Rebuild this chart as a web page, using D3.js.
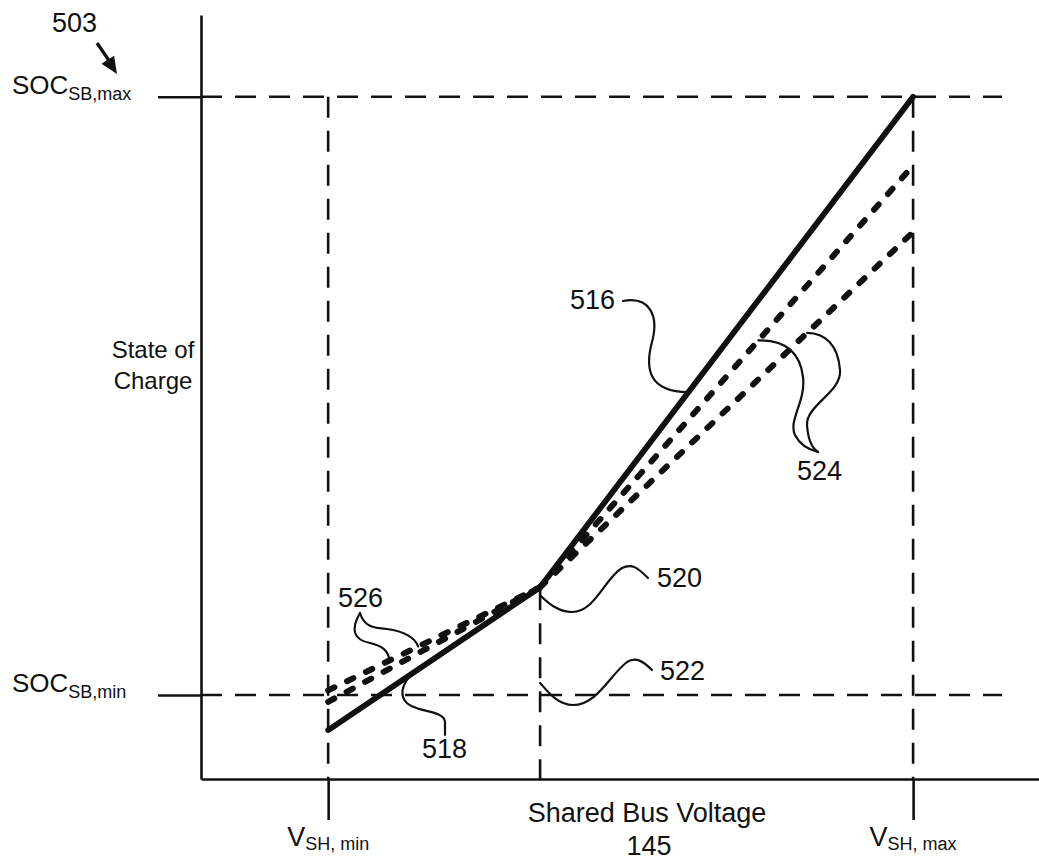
<!DOCTYPE html>
<html>
<head>
<meta charset="utf-8">
<script src="https://cdn.jsdelivr.net/npm/d3@7"></script>
<style>
  html, body { margin: 0; padding: 0; background: #fff; }
  svg { display: block; }
  text { font-family: "Liberation Sans", Arial, Helvetica, sans-serif; fill: #111; }
</style>
</head>
<body>
<svg id="chart" width="1039" height="861"></svg>
<script>
// ---------------- data ----------------
const voltage = [1, 2, 3.76];              // V_SH,min, break point (520), V_SH,max
const socLimits = [11.0, 89.3];            // SOC_SB,min, SOC_SB,max
const line516 = [6.4, 25.1, 89.3];         // solid curve over voltage[0..2]
const line526a = [11.6, 25.1];             // dashed, lower segment (voltage[0..1])
const line526b = [10.1, 25.1];
const line524a = [25.1, 80.3];             // dashed, upper segment (voltage[1..2])
const line524b = [25.1, 71.6];
const yTickLabels = [["SOC", "SB,min"], ["SOC", "SB,max"]];
const xTickLabels = [["V", "SH, min"], ["V", "SH, max"]];
const yTitle = ["State of", "Charge"];
const xTitle = ["Shared Bus Voltage", "145"];
const refLabels = ["503", "516", "518", "520", "522", "524", "526"];

// ---------------- scales ----------------
const svg = d3.select("#chart");
const x = d3.scaleLinear().domain([0.4, 4.354]).range([201, 1039]);
const y = d3.scaleLinear().domain([0, 100]).range([779, 15]);

const ink = "#111";

// helper: interpolated point on a polyline
function pointOn(xs, ys, v) {
  for (let i = 0; i < xs.length - 1; i++) {
    if (v >= xs[i] && v <= xs[i + 1]) {
      const t = (v - xs[i]) / (xs[i + 1] - xs[i]);
      return [x(v), y(ys[i] + t * (ys[i + 1] - ys[i]))];
    }
  }
  return [x(v), y(ys[ys.length - 1])];
}

// ---------------- reference dashed lines ----------------
const gridDash = "21,13";
socLimits.forEach(s => {
  svg.append("line")
    .attr("x1", x.range()[0]).attr("x2", 1002)
    .attr("y1", y(s)).attr("y2", y(s))
    .attr("stroke", ink).attr("stroke-width", 2.6).attr("stroke-dasharray", gridDash);
});
[voltage[0], voltage[2]].forEach(v => {
  svg.append("line")
    .attr("x1", x(v)).attr("x2", x(v))
    .attr("y1", y(socLimits[1])).attr("y2", y(0))
    .attr("stroke", ink).attr("stroke-width", 2.6).attr("stroke-dasharray", gridDash);
});
svg.append("line")
  .attr("x1", x(voltage[1])).attr("x2", x(voltage[1]))
  .attr("y1", y(line516[1]) + 2).attr("y2", y(0))
  .attr("stroke", ink).attr("stroke-width", 2.6).attr("stroke-dasharray", gridDash);

// ---------------- axes ----------------
const xAxis = d3.axisBottom(x).tickValues([voltage[0], voltage[2]])
  .tickSizeInner(41).tickSizeOuter(0).tickFormat("");
const yAxis = d3.axisLeft(y).tickValues(socLimits)
  .tickSizeInner(43).tickSizeOuter(0).tickFormat("");
const gx = svg.append("g").attr("transform", `translate(0,${y(0)})`).call(xAxis);
const gy = svg.append("g").attr("transform", `translate(${x.range()[0]},0)`).call(yAxis);
[gx, gy].forEach(g => {
  g.selectAll("path, line").attr("stroke", ink).attr("stroke-width", 2.6);
});

// ---------------- curves ----------------
const lineGen = d3.line().x(d => x(d[0])).y(d => y(d[1]));
svg.append("path")
  .datum(voltage.map((v, i) => [v, line516[i]]))
  .attr("d", lineGen).attr("fill", "none").attr("stroke", ink)
  .attr("stroke-width", 5.8).attr("stroke-linecap", "round").attr("stroke-linejoin", "round");

const dashedSets = [
  [voltage.slice(0, 2), line526a],
  [voltage.slice(0, 2), line526b],
  [voltage.slice(1, 3), line524a],
  [voltage.slice(1, 3), line524b]
];
dashedSets.forEach(([vs, ss]) => {
  svg.append("path")
    .datum(vs.map((v, i) => [v, ss[i]]))
    .attr("d", lineGen).attr("fill", "none").attr("stroke", ink)
    .attr("stroke-width", 6).attr("stroke-linecap", "round")
    .attr("stroke-dasharray", "7,14");
});

// ---------------- tick labels ----------------
yTickLabels.forEach((lab, i) => {
  const t = svg.append("text").attr("x", 12).attr("y", y(socLimits[i]) - 3);
  t.append("tspan").attr("font-size", 26).text(lab[0]);
  t.append("tspan").attr("font-size", 18).attr("dy", 6).text(lab[1]);
});
[voltage[0], voltage[2]].forEach((v, i) => {
  const t = svg.append("text").attr("x", x(v)).attr("y", 846).attr("text-anchor", "middle");
  t.append("tspan").attr("font-size", 27).text(xTickLabels[i][0]);
  t.append("tspan").attr("font-size", 18).attr("dy", 4).text(xTickLabels[i][1]);
});

// ---------------- titles ----------------
svg.append("text").attr("x", 153).attr("y", 358).attr("text-anchor", "middle")
  .attr("font-size", 24).text(yTitle[0]);
svg.append("text").attr("x", 153).attr("y", 389).attr("text-anchor", "middle")
  .attr("font-size", 24).text(yTitle[1]);
svg.append("text").attr("x", 647).attr("y", 822).attr("text-anchor", "middle")
  .attr("font-size", 27).text(xTitle[0]);
svg.append("text").attr("x", 649).attr("y", 855).attr("text-anchor", "middle")
  .attr("font-size", 27).text(xTitle[1]);

// ---------------- reference numerals & leaders ----------------
const numPos = { "503": [52, 32], "516": [570, 309], "518": [422, 758], "520": [657, 587],
                 "522": [660, 680], "524": [797, 480], "526": [338, 607] };
refLabels.forEach(r => {
  svg.append("text").attr("x", numPos[r][0]).attr("y", numPos[r][1])
    .attr("font-size", 27).text(r);
});

function leader(d) {
  svg.append("path").attr("d", d).attr("fill", "none").attr("stroke", ink)
    .attr("stroke-width", 2.2).attr("stroke-linecap", "round");
}
const e516 = pointOn(voltage, line516, 2.70);
leader(`M623,301 C650,296 659,316 652,342 C645,368 648,${e516[1]} ${e516[0]},${e516[1]}`);
const e518 = pointOn(voltage, line516, 1.41);
leader(`M445,735 L445,722 C444,708 408,714 403,697 C400,687 ${e518[0] - 6},${e518[1] + 4} ${e518[0]},${e518[1]}`);
const j = [x(voltage[1]), y(line516[1])];
leader(`M648,578 C638,568 632,563 622,568 C605,578 595,612 572,612 C558,612 548,603 ${j[0]},${j[1] + 8}`);
leader(`M652,670 C642,660 635,657 627,662 C610,675 597,705 573,705 C558,705 548,692 ${j[0]},683`);
const e524a = pointOn(voltage.slice(1, 3), line524a, 3.03);
const e524b = pointOn(voltage.slice(1, 3), line524b, 3.26);
leader(`M${e524a[0]},${e524a[1]} C785,340 800,352 803,377 C806,402 788,420 795,435 C800,445 810,450 818,452`);
leader(`M${e524b[0]},${e524b[1]} C825,333 838,345 840,370 C842,392 806,405 807,425 C808,440 812,448 818,452`);
const e526a = pointOn(voltage.slice(0, 2), line526a, 1.29);
const e526b = pointOn(voltage.slice(0, 2), line526a, 1.425);
leader(`M360,613 C350,630 354,640 370,643 C382,646 388,650 ${e526a[0]},${e526a[1]}`);
leader(`M360,613 C364,626 372,628 387,629 C402,631 414,636 ${e526b[0]},${e526b[1]}`);

// 503 arrow
svg.append("line").attr("x1", 97).attr("y1", 43).attr("x2", 110).attr("y2", 62)
  .attr("stroke", ink).attr("stroke-width", 3.2);
(function () {
  const tip = [117, 74], ang = Math.atan2(74 - 43, 117 - 97), L = 17, W = 7.5;
  const bx = tip[0] - L * Math.cos(ang), by = tip[1] - L * Math.sin(ang);
  const px = -Math.sin(ang) * W, py = Math.cos(ang) * W;
  svg.append("path")
    .attr("d", `M${tip[0]},${tip[1]} L${bx + px},${by + py} L${bx - px},${by - py} Z`)
    .attr("fill", ink);
})();
</script>
</body>
</html>
